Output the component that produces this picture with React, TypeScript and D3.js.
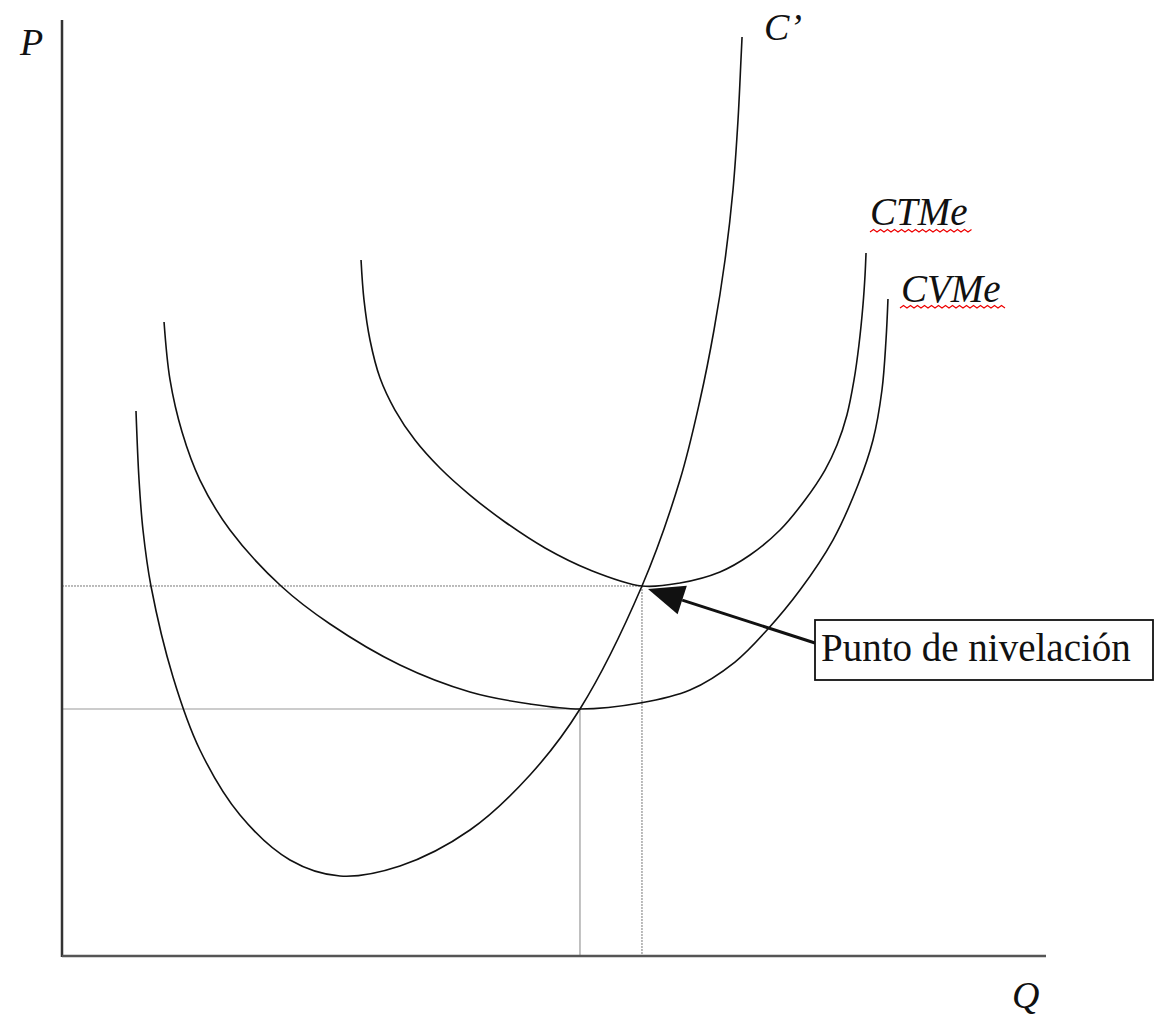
import React from "react";
import * as d3 from "d3";

// Data (Q, P) in arbitrary units, domain 0..100 on both axes
const marginalCost: [number, number][] = [
  [7.52, 58.23], [7.83, 50.85], [8.23, 45.51], [9.04, 39.53], [11.28, 29.81],
  [14.02, 22.01], [18.09, 15.06], [23.17, 10.26], [28.25, 8.55], [34.35, 9.62],
  [41.46, 13.46], [47.56, 19.34], [52.64, 26.39], [58.94, 39.53], [62.8, 50.85],
  [64.84, 59.4], [66.26, 66.88], [67.38, 74.36], [68.19, 81.84], [68.7, 89.32],
  [69.0, 95.73], [69.11, 98.18],
];
const avgVariableCost: [number, number][] = [
  [10.37, 67.74], [10.98, 61.54], [12.2, 55.98], [14.02, 50.85], [17.07, 45.51],
  [22.26, 39.53], [27.24, 35.47], [34.35, 31.09], [41.46, 28.21], [47.56, 26.92],
  [52.64, 26.39], [58.74, 27.03], [63.82, 28.42], [68.39, 31.41], [71.65, 34.83],
  [75.0, 39.1], [78.35, 44.44], [80.89, 50.32], [82.42, 55.13], [83.33, 60.47],
  [83.74, 65.81], [83.94, 70.19],
];
const avgTotalCost: [number, number][] = [
  [30.39, 74.36], [30.69, 70.09], [31.3, 65.81], [32.32, 61.75], [33.84, 58.33],
  [35.87, 55.13], [38.41, 52.14], [41.46, 49.25], [45.02, 46.37], [49.09, 43.59],
  [53.66, 41.24], [58.94, 39.53], [62.8, 39.85], [66.87, 41.03], [69.92, 42.84],
  [72.97, 45.51], [75.51, 48.72], [77.54, 51.92], [78.76, 54.59], [79.77, 57.8],
  [80.49, 61.54], [80.99, 65.28], [81.4, 69.55], [81.61, 72.76], [81.71, 75.11],
];
// Key points: min of CVMe (shutdown) and min of CTMe (break-even)
const minCVMe: [number, number] = [52.64, 26.39];
const minCTMe: [number, number] = [58.94, 39.53];

const labels = {
  p: "P",
  q: "Q",
  mc: "C\u2019",
  ctme: "CTMe",
  cvme: "CVMe",
  note: "Punto de nivelación",
};

const W = 1155;
const H = 1024;

export default function App() {
  const x = d3.scaleLinear().domain([0, 100]).range([62, 1046]);
  const y = d3.scaleLinear().domain([0, 100]).range([956, 20]);
  const line = d3
    .line<[number, number]>()
    .x((d) => x(d[0]))
    .y((d) => y(d[1]))
    .curve(d3.curveCatmullRom.alpha(0.5));

  const serif = "'Liberation Serif', 'Times New Roman', serif";

  // arrow geometry
  const boxX = 815, boxY = 620, boxW = 338, boxH = 60;
  const start: [number, number] = [boxX, boxY + 23];
  const tip: [number, number] = [x(minCTMe[0]) + 6, y(minCTMe[1]) + 3];
  const dx = tip[0] - start[0], dy = tip[1] - start[1];
  const len = Math.hypot(dx, dy);
  const ux = dx / len, uy = dy / len;
  const headL = 36, headW = 15;
  const bx = tip[0] - ux * headL, by = tip[1] - uy * headL;
  const head = `M${tip[0]},${tip[1]} L${bx - uy * headW},${by + ux * headW} L${bx + uy * headW},${by - ux * headW} Z`;

  const wavy = (x0: number, x1: number, yy: number) => {
    let d = `M${x0},${yy}`;
    const step = 3.5;
    let up = true;
    for (let xx = x0 + step; xx <= x1; xx += step) {
      d += ` L${xx},${yy + (up ? -2.5 : 0)}`;
      up = !up;
    }
    return d;
  };

  return (
    <svg width={W} height={H} style={{ position: "absolute", left: 0, top: 0, background: "#fff" }}>
      {/* guide lines */}
      <line x1={x(0)} x2={x(minCTMe[0])} y1={y(minCTMe[1])} y2={y(minCTMe[1])} stroke="#777" strokeWidth={1} strokeDasharray="2,1" />
      <line x1={x(minCTMe[0])} x2={x(minCTMe[0])} y1={y(minCTMe[1])} y2={y(0)} stroke="#777" strokeWidth={1} strokeDasharray="2,1" />
      <line x1={x(0)} x2={x(minCVMe[0])} y1={y(minCVMe[1])} y2={y(minCVMe[1])} stroke="#999" strokeWidth={1.2} />
      <line x1={x(minCVMe[0])} x2={x(minCVMe[0])} y1={y(minCVMe[1])} y2={y(0)} stroke="#999" strokeWidth={1.2} />

      {/* curves */}
      {[marginalCost, avgVariableCost, avgTotalCost].map((d, i) => (
        <path key={i} d={line(d) || ""} fill="none" stroke="#111" strokeWidth={1.6} />
      ))}

      {/* axes */}
      <line x1={x(0)} x2={x(0)} y1={y(100)} y2={y(0) + 1} stroke="#333" strokeWidth={2.5} />
      <line x1={x(0)} x2={x(100)} y1={y(0)} y2={y(0)} stroke="#555" strokeWidth={2.5} />

      {/* axis labels */}
      <text x={20} y={55} fontFamily={serif} fontStyle="italic" fontSize={38} fill="#111">{labels.p}</text>
      <text x={1012} y={1008} fontFamily={serif} fontStyle="italic" fontSize={38} fill="#111">{labels.q}</text>

      {/* curve labels */}
      <text x={764} y={40} fontFamily={serif} fontStyle="italic" fontSize={38} fill="#111">{labels.mc}</text>
      <text x={870} y={225} fontFamily={serif} fontStyle="italic" fontSize={39} fill="#111">{labels.ctme}</text>
      <path d={wavy(870, 973, 232)} fill="none" stroke="#e00" strokeWidth={1.2} />
      <text x={901} y={302} fontFamily={serif} fontStyle="italic" fontSize={39} fill="#111">{labels.cvme}</text>
      <path d={wavy(900, 1005, 308)} fill="none" stroke="#e00" strokeWidth={1.2} />

      {/* annotation */}
      <line x1={start[0]} y1={start[1]} x2={bx} y2={by} stroke="#111" strokeWidth={3} />
      <path d={head} fill="#111" />
      <rect x={boxX} y={boxY} width={boxW} height={boxH} fill="#fff" stroke="#111" strokeWidth={1.8} />
      <text x={821} y={661} fontFamily={serif} fontSize={39} fill="#111">{labels.note}</text>
    </svg>
  );
}
